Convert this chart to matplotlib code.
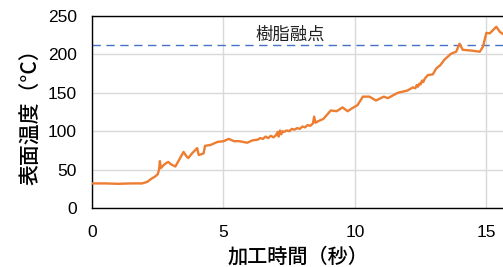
import matplotlib
matplotlib.use("Agg")
import matplotlib.pyplot as plt

plt.rcParams['font.family'] = ['Noto Sans CJK JP', 'DejaVu Sans']

time_s = [0.0, 0.5, 1.0, 1.5, 1.9, 2.1, 2.25, 2.4, 2.5, 2.55, 2.58, 2.62, 2.7, 2.8, 2.9, 3.0, 3.17,
          3.3, 3.48, 3.6, 3.66, 3.8, 4.0, 4.03, 4.06, 4.15, 4.24, 4.27, 4.3, 4.5, 4.77, 5.0, 5.2,
          5.4, 5.6, 5.9, 6.1, 6.3, 6.4, 6.5, 6.6, 6.7, 6.8, 6.9, 7.0, 7.06, 7.1, 7.15, 7.2, 7.25,
          7.3, 7.4, 7.5, 7.6, 7.7, 7.8, 7.9, 8.0, 8.1, 8.2, 8.3, 8.4, 8.45, 8.5, 8.6, 8.8, 9.08,
          9.3, 9.53, 9.72, 9.9, 10.1, 10.3, 10.55, 10.8, 11.1, 11.25, 11.63, 12.0, 12.2, 12.3,
          12.35, 12.4, 12.45, 12.5, 12.55, 12.6, 12.65, 12.77, 12.96, 13.1, 13.25, 13.4, 13.66,
          13.85, 13.98, 14.1, 14.43, 14.75, 14.87, 15.0, 15.13, 15.38, 15.51, 15.7]
temp_c = [32, 32, 31.5, 32, 32, 34, 38, 41, 44, 50, 61, 52, 55, 58, 60, 57, 54,
          62, 73, 67, 65, 71, 78, 73, 69, 70, 71, 76, 81, 82, 86, 87, 90,
          87, 87, 85, 88, 89, 91, 90, 93, 91, 94, 92, 95, 99, 93, 101, 96, 100,
          99, 101, 100, 103, 102, 104, 103, 106, 105, 108, 107, 110, 119, 111, 113, 116, 127,
          126, 131, 126, 130, 134, 145, 145, 140, 145, 143, 150, 153, 157, 156,
          160, 158, 162, 161, 166, 164, 168, 173, 174, 182, 186, 193, 201,
          203.5, 214, 206, 205, 203.5, 210, 228, 227.5, 236, 229.5, 225]

melt_point = 212
xticks = [0, 5, 10, 15]
yticks = [0, 50, 100, 150, 200, 250]

fig = plt.figure(figsize=(5.03, 2.67), dpi=100)
ax = fig.add_axes([0.183, 0.221, 0.82, 0.719])
ax.plot(time_s, temp_c, color='#ED7D31', lw=1.7, zorder=3)
ax.axhline(melt_point, color='#4472C4', lw=1.0, dashes=(6, 4), zorder=2)
ax.text(6.2, melt_point + 2.5, '樹脂融点', fontsize=12.5, color='#222222', va='bottom', ha='left')

ax.set_xlim(0, 15.69)
ax.set_ylim(0, 250)
ax.set_xticks(xticks)
ax.set_yticks(yticks)
ax.grid(True, color='#d9d9d9', lw=1.0, zorder=0)
ax.set_axisbelow(True)
ax.tick_params(length=0, labelsize=12.5)
ax.tick_params(axis='x', pad=12)
ax.tick_params(axis='y', pad=11)
for lbl in ax.get_xticklabels() + ax.get_yticklabels():
    lbl.set_family(['Liberation Sans', 'DejaVu Sans'])
for s in ['left', 'bottom', 'top']:
    ax.spines[s].set_color('#000000')
    ax.spines[s].set_linewidth(1.0)
ax.spines['right'].set_visible(False)
ax.set_xlabel('加工時間（秒）', fontsize=14.5, labelpad=5, fontweight='medium')
ax.set_ylabel('表面温度（°C）', fontsize=15, labelpad=4, fontweight='medium')

fig.savefig('out.png', dpi=100)
